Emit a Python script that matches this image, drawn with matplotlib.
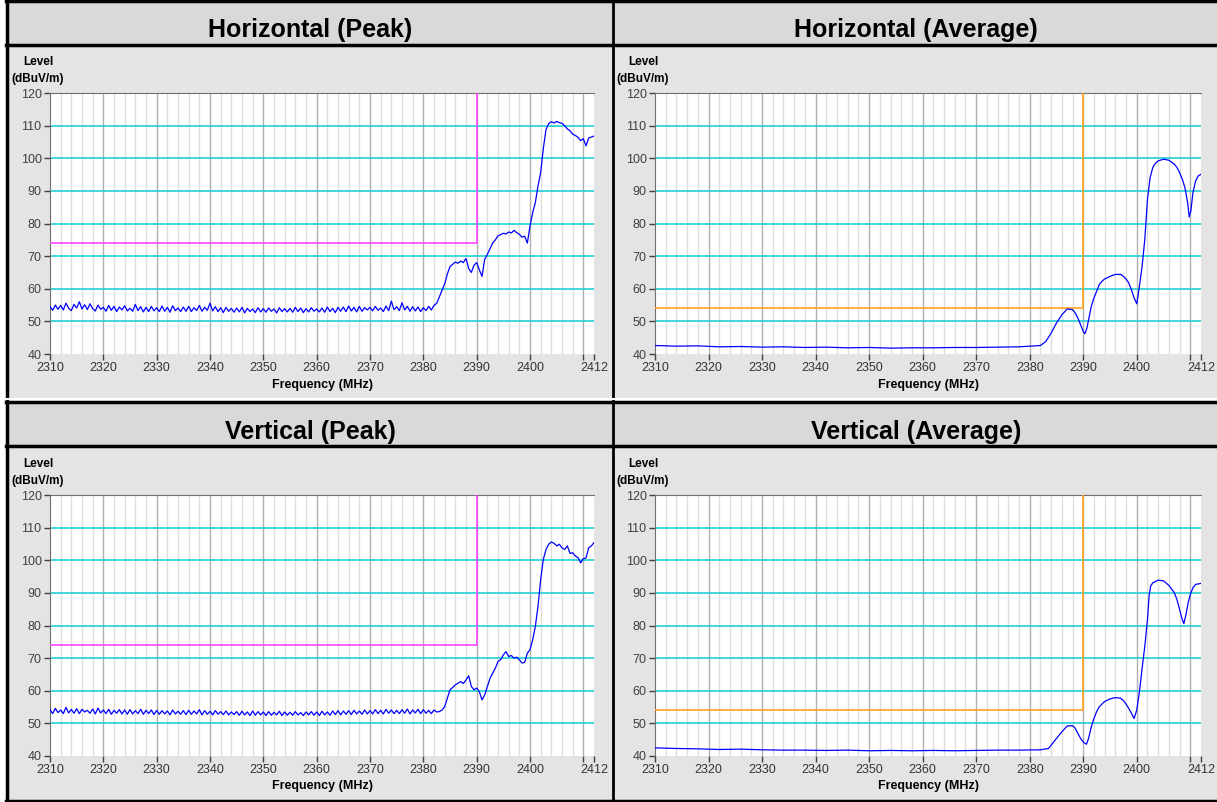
import numpy as np
import matplotlib.pyplot as plt
from matplotlib.patches import Rectangle

plt.rcParams['font.family'] = ['Liberation Sans', 'DejaVu Sans']

# ---- data ----
peak_freq = np.arange(2310, 2412.01, 0.5)

h_peak = [
    54.6, 53.4, 55.0, 53.7, 54.9, 53.5, 55.6, 54.0, 53.3, 55.2,
    54.1, 56.0, 53.8, 55.1, 53.6, 55.4, 53.9, 53.2, 55.0, 53.7,
    54.3, 53.1, 54.9, 53.4, 54.6, 53.0, 54.4, 53.5, 54.8, 53.2,
    54.0, 53.1, 55.2, 53.3, 54.5, 52.9, 54.3, 53.0, 54.6, 53.2,
    54.2, 53.0, 54.7, 53.1, 54.3, 52.8, 54.8, 53.3, 54.1, 53.0,
    54.4, 53.1, 54.6, 53.0, 54.2, 53.3, 54.9, 53.1, 54.3, 53.4,
    55.6, 53.2, 54.5, 53.0, 54.2, 52.7, 54.3, 53.1, 54.0, 52.8,
    54.1, 52.9, 54.3, 52.6, 54.0, 53.0, 53.8, 52.7, 54.2, 52.9,
    53.9, 52.8, 54.1, 53.1, 53.8, 52.6, 54.2, 53.0, 53.9, 52.9,
    54.0, 52.8, 54.3, 53.0, 54.1, 52.7, 53.9, 52.9, 54.2, 53.1,
    53.8, 52.9, 54.1, 52.8, 54.4, 53.0, 54.0, 52.7, 54.3, 53.1,
    54.4, 53.0, 54.7, 53.2, 54.3, 52.9, 54.6, 53.1, 54.2, 53.5,
    54.3, 53.2, 54.6, 53.4, 54.1, 53.0, 54.7, 53.3, 56.2, 53.6,
    54.5, 53.3, 55.7, 53.5, 54.6, 53.1, 54.5, 53.2, 54.4, 53.0,
    54.2, 53.3, 54.6, 53.5, 54.9,
    55.5, 57.5, 59.5, 61.5, 64.5, 66.8, 67.5, 68.2, 67.8, 68.5,
    68.0, 69.3, 66.2, 65.0, 67.2, 68.0, 65.8, 63.8, 69.0, 70.5,
    72.3, 74.0, 75.0, 76.2, 76.6, 77.0, 76.8, 77.4, 77.1, 77.9,
    77.2, 76.7, 75.8, 76.1, 74.0, 79.2, 83.3, 86.4, 91.5, 95.6,
    103.0, 108.8, 110.6, 111.2, 110.8, 111.3, 110.9, 110.7, 110.0, 109.0,
    108.4, 107.4, 107.0, 106.4, 105.4, 106.0, 103.8, 106.2, 106.5, 106.8,
]

v_peak = [
    54.2, 53.0, 54.6, 53.3, 54.1, 53.0, 54.9, 53.2, 54.3, 53.1,
    54.5, 53.0, 54.3, 53.5, 54.0, 53.1, 54.4, 52.9, 54.7, 53.2,
    54.1, 53.0, 54.3, 52.8, 54.0, 53.1, 54.2, 52.9, 54.1, 52.8,
    54.2, 52.9, 53.9, 53.0, 54.3, 52.8, 54.0, 53.0, 54.1, 52.7,
    54.0, 52.8, 53.9, 52.9, 53.8, 52.6, 54.1, 52.9, 53.7, 52.8,
    53.9, 52.7, 54.0, 52.8, 53.8, 52.9, 54.2, 52.6, 53.9, 52.8,
    53.7, 52.6, 53.9, 52.8, 53.6, 52.7, 53.8, 52.6, 53.5, 52.7,
    53.6, 52.5, 53.7, 52.6, 53.5, 52.4, 53.8, 52.5, 53.6, 52.6,
    53.5, 52.4, 53.6, 52.5, 53.4, 52.6, 53.7, 52.4, 53.5, 52.5,
    53.4, 52.5, 53.6, 52.6, 53.3, 52.4, 53.5, 52.6, 53.6, 52.5,
    53.5, 52.4, 53.7, 52.6, 53.5, 52.5, 53.8, 52.7, 53.9, 52.6,
    53.8, 52.8, 53.9, 52.7, 54.0, 52.9, 53.8, 52.8, 54.1, 52.9,
    53.9, 52.9, 54.2, 53.0, 54.0, 52.9, 54.3, 53.1, 54.1, 53.0,
    54.0, 53.0, 54.2, 53.1, 54.4, 52.9, 54.1, 53.2, 54.3, 53.0,
    54.2, 53.1, 54.0, 53.0, 54.1,
    53.5, 53.6, 54.1, 55.1, 57.7, 60.3, 61.0, 61.8, 62.3, 62.8,
    62.2, 63.3, 64.6, 61.3, 60.3, 60.8, 59.7, 57.2, 58.7, 61.3,
    63.8, 65.4, 66.9, 69.0, 69.5, 71.0, 72.0, 70.5, 70.8, 70.0,
    70.3, 69.5, 68.5, 68.7, 71.5, 72.6, 75.6, 79.7, 85.9, 94.1,
    100.3, 103.3, 104.9, 105.6, 105.2, 104.4, 104.9, 103.8, 103.3, 104.4,
    102.1, 102.3, 101.3, 100.8, 99.2, 100.5, 100.7, 103.8, 104.4, 105.4,
]

h_avg_freq = [2310, 2314, 2318, 2322, 2326, 2330, 2334, 2338, 2342, 2346,
              2350, 2354, 2358, 2362, 2366, 2370, 2374, 2378, 2382, 2383,
              2384, 2385, 2386, 2387, 2388, 2388.5, 2389, 2389.5, 2390, 2390.3,
              2390.7, 2391, 2391.5, 2392, 2392.5, 2393, 2393.5, 2394, 2395, 2396,
              2397, 2397.5, 2398, 2398.5, 2399, 2399.5, 2400, 2400.5, 2401, 2401.5,
              2402, 2402.5, 2403, 2403.5, 2404, 2405, 2406, 2407, 2407.5, 2408,
              2408.5, 2409, 2409.5, 2409.8, 2410.1, 2410.5, 2411, 2411.5, 2412]
h_avg = [42.6, 42.4, 42.5, 42.2, 42.3, 42.1, 42.2, 42.0, 42.1, 41.9,
         42.0, 41.8, 41.9, 41.9, 42.0, 42.0, 42.1, 42.2, 42.6, 43.8,
         46.4, 49.5, 52.0, 53.8, 53.6, 52.6, 51.0, 49.0, 46.9, 46.2,
         48.0, 50.5, 54.6, 57.2, 59.2, 61.3, 62.3, 63.0, 63.8, 64.4,
         64.4, 63.8, 63.0, 61.8, 59.7, 57.2, 55.4, 60.8, 66.9, 75.1,
         87.4, 94.1, 97.2, 98.5, 99.2, 99.7, 99.4, 98.2, 97.2, 95.6,
         93.6, 91.0, 86.4, 82.0, 83.8, 89.5, 93.1, 94.6, 95.1]

v_avg_freq = [2310, 2314, 2318, 2322, 2326, 2330, 2334, 2338, 2342, 2346,
              2350, 2354, 2358, 2362, 2366, 2370, 2374, 2378, 2382, 2383.5,
              2384, 2385, 2386, 2387, 2388, 2388.5, 2389, 2389.5, 2390, 2390.6,
              2391, 2391.5, 2392, 2392.5, 2393, 2394, 2395, 2396, 2397, 2397.5,
              2398, 2398.5, 2399, 2399.5, 2400, 2400.5, 2401, 2401.5, 2402, 2402.3,
              2402.6, 2403, 2404, 2405, 2406, 2407, 2407.5, 2408, 2408.5, 2408.8,
              2409.2, 2409.6, 2410, 2410.5, 2411, 2412]
v_avg = [42.5, 42.3, 42.2, 42.0, 42.1, 41.9, 41.8, 41.8, 41.7, 41.8,
         41.6, 41.7, 41.6, 41.7, 41.6, 41.7, 41.8, 41.8, 41.9, 42.3,
         43.3, 45.4, 47.4, 49.2, 49.3, 48.5, 46.9, 45.4, 44.3, 43.6,
         45.4, 48.9, 51.5, 53.6, 55.1, 56.7, 57.5, 57.9, 57.7, 57.0,
         55.9, 54.6, 53.1, 51.5, 54.1, 59.7, 66.9, 73.6, 81.8, 89.0,
         92.1, 93.1, 93.9, 93.7, 92.3, 90.1, 88.0, 84.9, 81.8, 80.6,
         83.4, 87.0, 89.5, 91.6, 92.6, 92.9]

titles = ['Horizontal (Peak)', 'Horizontal (Average)', 'Vertical (Peak)', 'Vertical (Average)']
limit_peak = 74
limit_avg = 54
limit_edge = 2390

W, H = 1217, 802
fig = plt.figure(figsize=(W / 100, H / 100), dpi=100)
fig.patch.set_facecolor('white')

# background drawn in pixel coords
bg = fig.add_axes([0, 0, 1, 1])
bg.set_xlim(0, W)
bg.set_ylim(H, 0)
bg.axis('off')

header_col = '#d9d9d9'
body_col = '#e4e4e4'
for top in (0, 402):
    bot = top + 398 if top == 0 else 800
    for left, right in ((6, 613), (613, 1217)):
        bg.add_patch(Rectangle((left, top), right - left, 45, facecolor=header_col, edgecolor='none'))
        bg.add_patch(Rectangle((left, top + 45), right - left, bot - top - 45, facecolor=body_col, edgecolor='none'))
# black frame lines
for y in (1, 44.5, 401.5, 446):
    bg.plot([6, W], [y, y], color='black', lw=2.5)
bg.plot([6, W], [800.5, 800.5], color='black', lw=2.5)
bg.plot([6.5, 6.5], [0, 801], color='black', lw=2.5)
bg.plot([613, 613], [0, 801], color='black', lw=2)
# thin white separation above lower header
bg.plot([6, W], [399, 399], color='white', lw=1.5)

centers = [(310, 30), (916, 30), (310, 432), (916, 432)]
for t, (cx, cy) in zip(titles, centers):
    bg.text(cx, cy, t, ha='center', va='center', fontsize=18, fontweight='bold')

# axes boxes: (left px, right px, top px, bottom px)
boxes = [(50, 594, 93, 354), (655, 1201, 93, 354),
         (50, 594, 495, 756), (655, 1201, 495, 756)]
traces = [(peak_freq, h_peak, limit_peak, '#ff44ff'),
          (h_avg_freq, h_avg, limit_avg, '#ffa31a'),
          (peak_freq, v_peak, limit_peak, '#ff44ff'),
          (v_avg_freq, v_avg, limit_avg, '#ffa31a')]

xticks = [2310, 2320, 2330, 2340, 2350, 2360, 2370, 2380, 2390, 2400, 2410, 2412]
xlabels = [str(v) for v in xticks]
xlabels[-2] = ''

for (l, r, t, b), (fx, fy, lim, lcol) in zip(boxes, traces):
    ax = fig.add_axes([l / W, (H - b) / H, (r - l) / W, (b - t) / H])
    ax.set_xlim(2310, 2412)
    ax.set_ylim(40, 120)
    ax.set_facecolor('white')
    for f in np.arange(2312, 2412, 2):
        c = '#b0b0b0' if f % 10 == 0 else '#dedede'
        ax.axvline(f, color=c, lw=1, zorder=1)
    for lv in range(50, 120, 10):
        ax.axhline(lv, color='#1fcfd6', lw=1.2, zorder=2)
    ax.plot([2310, limit_edge, limit_edge], [lim, lim, 120], color=lcol, lw=1.2, zorder=3)
    ax.plot(fx, fy, color='#0000ff', lw=0.9, zorder=4)
    for s in ('right', 'bottom'):
        ax.spines[s].set_visible(False)
    ax.spines['left'].set_color('#707070')
    ax.spines['top'].set_color('#707070')
    ax.set_xticks(xticks)
    ax.set_xticklabels(xlabels)
    ax.set_yticks(range(40, 121, 10))
    ax.tick_params(axis='both', labelsize=9, colors='#404040', length=4, width=1, pad=2)
    ax.tick_params(axis='x', labelcolor='#333333')
    ax.set_xlabel('Frequency (MHz)', fontsize=9, fontweight='bold', labelpad=3)
    ax.text(-0.022, 1.117, 'Level', transform=ax.transAxes, ha='center', va='center',
            fontsize=8.5, fontweight='bold')
    ax.text(-0.022, 1.052, '(dBuV/m)', transform=ax.transAxes, ha='center', va='center',
            fontsize=8.5, fontweight='bold')

fig.savefig('out.png', dpi=100)
